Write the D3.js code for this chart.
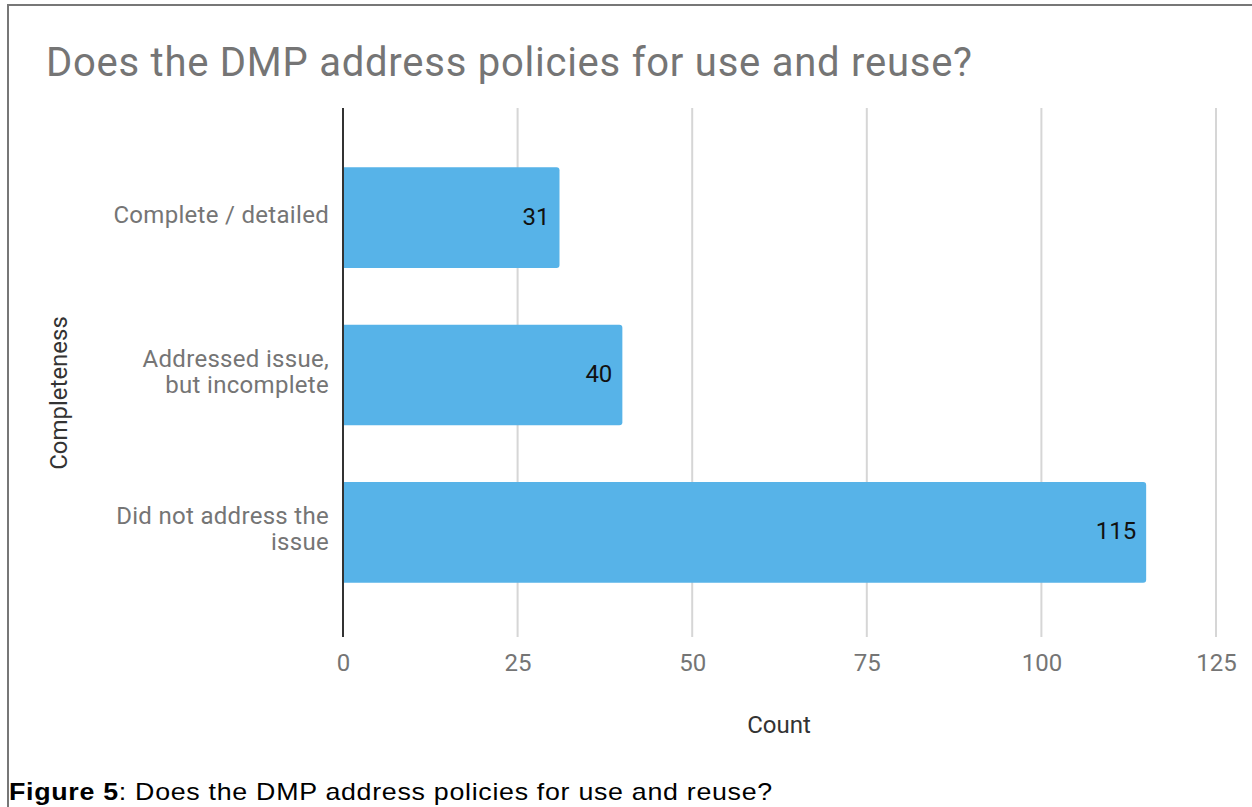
<!DOCTYPE html>
<html>
<head>
<meta charset="utf-8">
<script src="https://cdn.jsdelivr.net/npm/d3@7"></script>
<style>
  html, body { margin: 0; padding: 0; background: #fff; }
  svg { display: block; }
</style>
</head>
<body>
<svg id="chart" width="1252" height="807"></svg>
<script>
const categories = [["Complete / detailed"], ["Addressed issue,", "but incomplete"], ["Did not address the", "issue"]];
const values = [31, 40, 115];
const xTicks = [0, 25, 50, 75, 100, 125];
const titleText = "Does the DMP address policies for use and reuse?";
const xAxisTitle = "Count";
const yAxisTitle = "Completeness";
const captionBold = "Figure 5";
const captionRest = ": Does the DMP address policies for use and reuse?";

const svg = d3.select("#chart");
const W = 1252, H = 807;

// fit a text element to a target width by letter-spacing
function fitWidth(sel, target) {
  const node = sel.node();
  const w = node.getComputedTextLength();
  const n = (sel.text() || "").length;
  if (n > 1) sel.attr("letter-spacing", (target - w) / (n - 1));
}

// frame
svg.append("path")
  .attr("d", `M8,${H} V5 H${W}`)
  .attr("fill", "none").attr("stroke", "#777").attr("stroke-width", 2);

const x = d3.scaleLinear().domain([0, 125]).range([343, 1216]);
const keys = categories.map(c => c.join(" "));
const y = d3.scaleBand().domain(keys).range([139, 611]).paddingInner(0.36).paddingOuter(0.18);
const plotTop = 108, plotBottom = 637;

// title
const title = svg.append("text").attr("x", 46).attr("y", 76)
  .attr("font-family", "Roboto").attr("font-size", 40).attr("fill", "#757575")
  .text(titleText);
fitWidth(title, 926);

// gridlines
svg.append("g").selectAll("line").data(xTicks.filter(d => d !== 0)).join("line")
  .attr("x1", d => x(d)).attr("x2", d => x(d))
  .attr("y1", plotTop).attr("y2", plotBottom)
  .attr("stroke", "#d6d6d6").attr("stroke-width", 2);

// x tick labels via axis
const xAxis = d3.axisBottom(x).tickValues(xTicks).tickSize(0).tickPadding(0);
const gx = svg.append("g").attr("transform", `translate(0,${plotBottom + 34})`).call(xAxis);
gx.select(".domain").remove();
gx.selectAll("text").attr("font-family", "Roboto").attr("font-size", 24).attr("fill", "#757575").attr("dy", 0);

// bars
const data = keys.map((k, i) => ({ key: k, lines: categories[i], value: values[i] }));
const r = 3;
svg.append("g").selectAll("path").data(data).join("path")
  .attr("d", d => {
    const x0 = x(0), x1 = x(d.value), y0 = y(d.key), h = y.bandwidth();
    return `M${x0},${y0} H${x1 - r} Q${x1},${y0} ${x1},${y0 + r} V${y0 + h - r} Q${x1},${y0 + h} ${x1 - r},${y0 + h} H${x0} Z`;
  })
  .attr("fill", "#57b3e8");

// zero axis line
svg.append("line").attr("x1", x(0)).attr("x2", x(0)).attr("y1", plotTop).attr("y2", plotBottom)
  .attr("stroke", "#333").attr("stroke-width", 2);

// value labels
svg.append("g").selectAll("text").data(data).join("text")
  .attr("x", d => x(d.value) - 10)
  .attr("y", d => y(d.key) + y.bandwidth() / 2 + 7)
  .attr("text-anchor", "end")
  .attr("font-family", "Roboto").attr("font-size", 24).attr("fill", "#111")
  .text(d => d.value);

// category labels
const cat = svg.append("g").selectAll("text").data(data).join("text")
  .attr("text-anchor", "end")
  .attr("font-family", "Roboto").attr("font-size", 24).attr("fill", "#757575");
cat.each(function(d) {
  const t = d3.select(this);
  const n = d.lines.length;
  const cy = y(d.key) + y.bandwidth() / 2;
  d.lines.forEach((ln, i) => {
    t.append("tspan").attr("x", 329)
      .attr("y", cy + 5 + (i - (n - 1) / 2) * 26)
      .attr("letter-spacing", 0.3)
      .text(ln);
  });
});

// axis titles
svg.append("text").attr("x", 779).attr("y", 733).attr("text-anchor", "middle")
  .attr("font-family", "Roboto").attr("font-size", 24).attr("fill", "#333")
  .text(xAxisTitle);
svg.append("text").attr("transform", "translate(67,393) rotate(-90)").attr("text-anchor", "middle")
  .attr("font-family", "Roboto").attr("font-size", 24).attr("fill", "#333")
  .text(yAxisTitle);

// caption (horizontally stretched like the reference)
const cap = svg.append("text").attr("x", 0).attr("y", 0)
  .attr("font-family", "Liberation Sans, Arial").attr("font-size", 23).attr("fill", "#000")
  .attr("letter-spacing", 0.6);
cap.append("tspan").attr("font-weight", "bold").text(captionBold);
cap.append("tspan").text(captionRest);
{
  const w = cap.node().getComputedTextLength();
  const sx = 764 / w;
  cap.attr("transform", `translate(9,800) scale(${sx},1)`);
}
</script>
</body>
</html>
